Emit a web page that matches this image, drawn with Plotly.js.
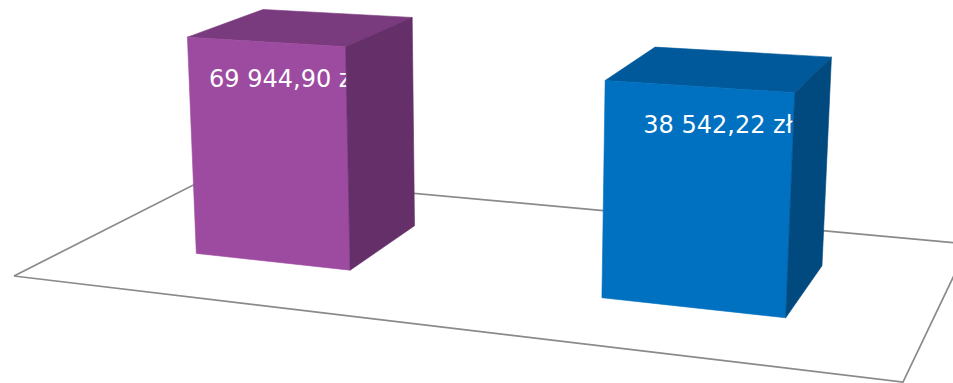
<!DOCTYPE html>
<html>
<head>
<meta charset="utf-8">
<script src="https://cdn.plot.ly/plotly-3.0.1.min.js"></script>
<style>html,body{margin:0;padding:0;background:#fff;}#chart{width:953px;height:383px;}</style>
</head>
<body>
<div id="chart"></div>
<script>
// ---- data ----
const categories = ['Kategoria 1', 'Kategoria 2'];
const values = [69944.90, 38542.22];
const currencySuffix = 'zł';

// ---- styles ----
const frontColors = ['#9D4BA0', '#0070C0'];
const topColors   = ['#7A3A7E', '#00599A'];
const sideColors  = ['#652F69', '#004A80'];
const floorColor = '#8A8A8A';

// ---- 3D layout (perspective) constants ----
const W = 953, H = 383;
const floorCorners = { p0: [14, 276], p1: [903, 382], p2: [969, 244], p3: [213, 175] }; // (u,v)=(0,0),(1,0),(1,1),(0,1)
const verticalVP = [495, 7500];
const zMin = -354400, zMax = 70000, zHeight = 0.0299;
const barWidthU = 0.2, uShift = 0.0065, v0 = 0.308, v1 = 0.708;
const labelHeightFrac = 0.83, labelUShift = 0.022;

function fmtPL(v) {
  const [i, d] = v.toFixed(2).split('.');
  return i.replace(/\B(?=(\d{3})+(?!\d))/g, ' ') + ',' + d + ' ' + currencySuffix;
}

// square -> quad homography
const [x0, y0] = floorCorners.p0, [x1, y1] = floorCorners.p1, [x2, y2] = floorCorners.p2, [x3, y3] = floorCorners.p3;
const sx = x0 - x1 + x2 - x3, sy = y0 - y1 + y2 - y3;
const dx1 = x1 - x2, dx2 = x3 - x2, dy1 = y1 - y2, dy2 = y3 - y2;
const det = dx1 * dy2 - dx2 * dy1;
const g = (sx * dy2 - dx2 * sy) / det;
const h = (dx1 * sy - sx * dy1) / det;
const a = x1 - x0 + g * x1, b = x3 - x0 + h * x3, c = x0;
const d = y1 - y0 + g * y1, e = y3 - y0 + h * y3, f = y0;

function project(u, v, zp) {
  const X = a * u + b * v + c + zp * verticalVP[0];
  const Y = d * u + e * v + f + zp * verticalVP[1];
  const Wh = g * u + h * v + 1 + zp;
  return [X / Wh, Y / Wh];
}
function zOf(value) { return -zHeight * (value - zMin) / (zMax - zMin); }

function poly(pts, color) {
  const xs = pts.map(p => p[0]), ys = pts.map(p => p[1]);
  xs.push(xs[0]); ys.push(ys[0]);
  return { type: 'scatter', mode: 'lines', x: xs, y: ys, fill: 'toself', fillcolor: color,
           line: { color: color, width: 0.6 }, hoverinfo: 'skip', showlegend: false };
}

const traces = [];
// floor
const fl = [[0,0],[1,0],[1,1],[0,1],[0,0]].map(([u, v]) => project(u, v, 0));
traces.push({ type: 'scatter', mode: 'lines', x: fl.map(p => p[0]), y: fl.map(p => p[1]),
  line: { color: floorColor, width: 1.7 }, hoverinfo: 'skip', showlegend: false });

const n = categories.length;
values.forEach((val, i) => {
  const uc = (i + 0.5) / n + uShift;
  const u0 = uc - barWidthU / 2, u1 = uc + barWidthU / 2;
  const z = zOf(val);
  const P = (u, v, zz) => project(u, v, zz);
  // top
  traces.push(poly([P(u0, v0, z), P(u1, v0, z), P(u1, v1, z), P(u0, v1, z)], topColors[i]));
  // front
  traces.push(poly([P(u0, v0, 0), P(u1, v0, 0), P(u1, v0, z), P(u0, v0, z)], frontColors[i]));
  // label
  const lp = P(uc + labelUShift, v0, z * labelHeightFrac);
  traces.push({ type: 'scatter', mode: 'text', x: [lp[0]], y: [lp[1]], text: [fmtPL(val)],
    textposition: 'middle center', cliponaxis: false,
    textfont: { family: 'DejaVu Sans, sans-serif', size: 24, color: '#FFFFFF' },
    hoverinfo: 'skip', showlegend: false, name: categories[i] });
  // right side
  traces.push(poly([P(u1, v0, 0), P(u1, v1, 0), P(u1, v1, z), P(u1, v0, z)], sideColors[i]));
});

const layout = {
  width: W, height: H,
  margin: { l: 0, r: 0, t: 0, b: 0, pad: 0 },
  paper_bgcolor: '#FFFFFF', plot_bgcolor: '#FFFFFF',
  showlegend: false,
  xaxis: { range: [0, W], visible: false, fixedrange: true },
  yaxis: { range: [H, 0], visible: false, fixedrange: true }
};
Plotly.newPlot('chart', traces, layout, { staticPlot: true, displayModeBar: false });
</script>
</body>
</html>
